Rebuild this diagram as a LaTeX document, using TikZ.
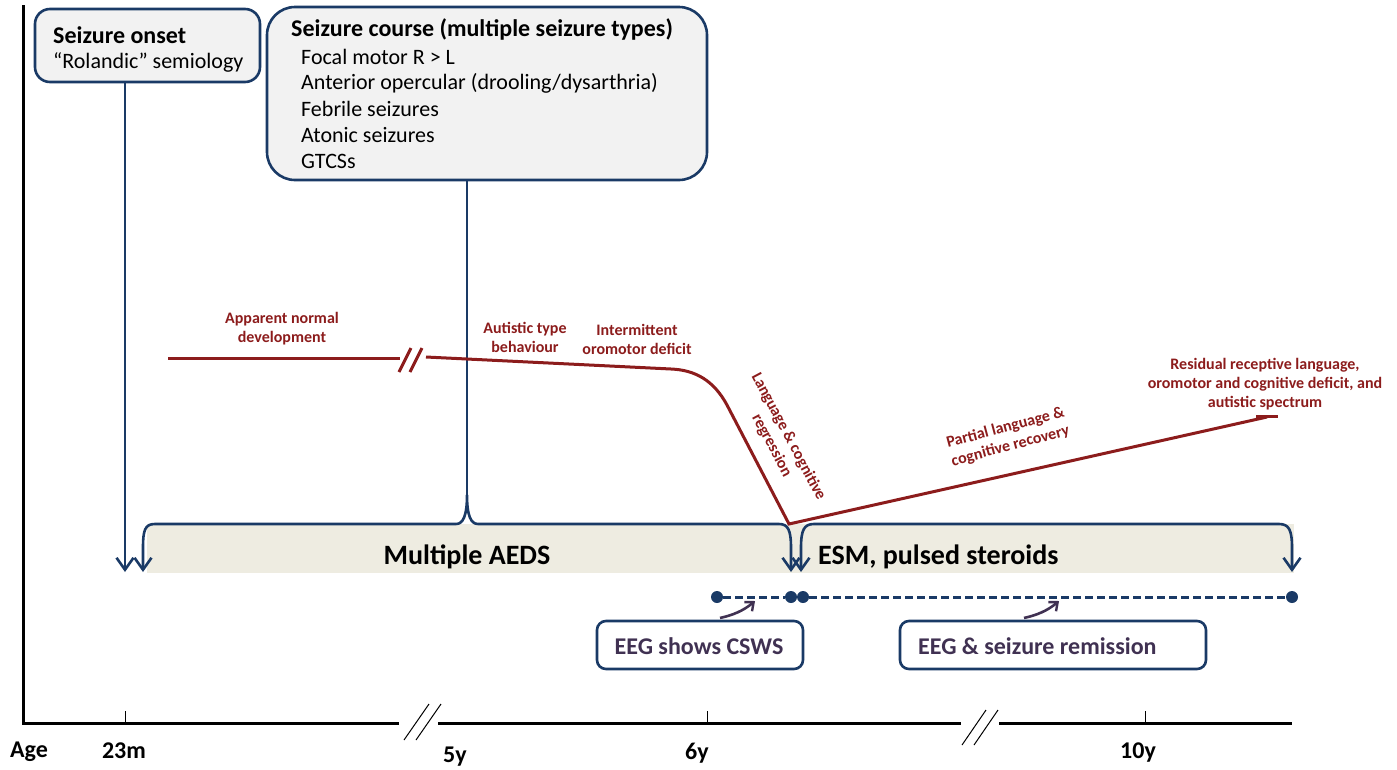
\documentclass[tikz,border=0pt]{standalone}
\usepackage{fontspec}
\setmainfont{Carlito}
\usetikzlibrary{arrows.meta}
\definecolor{navy}{HTML}{1A3A66}
\definecolor{boxfill}{HTML}{F2F2F2}
\definecolor{bandfill}{HTML}{EEECE1}
\definecolor{devred}{HTML}{8C1C1C}
\definecolor{eegpurple}{HTML}{403152}
\tikzset{
  vtip/.tip={Straight Barb[length=12pt, width=17pt, line width=2.6pt]},
  ptip/.tip={Straight Barb[length=7pt, width=12pt, line width=2.4pt]},
  infobox/.style={draw=navy, line width=2.6pt, fill=boxfill, inner sep=0pt},
  titletext/.style={anchor=west, inner sep=0pt, font=\fontsize{24}{28}\selectfont\bfseries},
  itemtext/.style={anchor=west, inner sep=0pt, font=\fontsize{22}{26}\selectfont},
  navyline/.style={draw=navy, line width=2.6pt},
  axisline/.style={line width=3pt, black},
  thinline/.style={line width=1pt, black},
  agelabel/.style={inner sep=0pt, font=\fontsize{24}{28}\selectfont\bfseries},
  bandtext/.style={inner sep=0pt, font=\fontsize{28}{32}\selectfont\bfseries},
  devline/.style={draw=devred, line width=3pt},
  redtext/.style={inner sep=0pt, align=center, text=devred, font=\fontsize{16}{19}\selectfont\bfseries},
  eegdot/.style={circle, fill=navy, inner sep=0pt, minimum size=12pt},
  eegdash/.style={draw=navy, line width=3pt, dash pattern=on 8pt off 4pt},
  eegbox/.style={draw=navy, line width=2.6pt, fill=white, rounded corners=9pt, inner sep=0pt},
  eegtext/.style={inner sep=0pt, text=eegpurple, font=\fontsize{24}{28}\selectfont\bfseries},
  eegarrow/.style={draw=eegpurple, line width=2.6pt, -{ptip}}
}
\begin{document}
\begin{tikzpicture}[x=1pt, y=-1pt]
\useasboundingbox (0,0) rectangle (1397,769);

% ---------- axis ----------
\draw[axisline] (23,5) -- (23,723) -- (399,723);
\draw[axisline] (438,723) -- (961,723);
\draw[axisline] (999,723) -- (1292,723);
\draw[thinline] (404,740) -- (429,704);
\draw[thinline] (416,740) -- (441,704);
\draw[thinline] (962,745) -- (986,710);
\draw[thinline] (974,745) -- (998,710);
\draw[thinline] (125,711) -- (125,723);
\draw[thinline] (707,711) -- (707,723);
\draw[thinline] (1145,711) -- (1145,723);
\node[agelabel] (lage) at (29,752) {Age};
\node[agelabel] (l23m) at (124,751) {23m};
\node[agelabel] (l5y) at (455,757) {5y};
\node[agelabel] (l6y) at (697,753) {6y};
\node[agelabel] (l10y) at (1138,753) {10y};

% ---------- treatment band ----------
\fill[bandfill] (147,524) rectangle (1294,573);

% ---------- boxes ----------
\node[infobox, rounded corners=15pt, minimum width=225pt, minimum height=73pt] (onset) at (147.5,45.5) {};
\node[titletext] (onsett) at (53,35) {Seizure onset};
\node[itemtext] (onsets) at (53,62) {“Rolandic” semiology};

\node[infobox, rounded corners=28pt, minimum width=440pt, minimum height=173pt] (course) at (487,93.5) {};
\node[titletext] (courset) at (291,29) {Seizure course (multiple seizure types)};
\node[itemtext] (c1) at (301,57) {Focal motor R > L};
\node[itemtext] (c2) at (301,83) {Anterior opercular (drooling/dysarthria)};
\node[itemtext] (c3) at (301,109) {Febrile seizures};
\node[itemtext] (c4) at (301,135) {Atonic seizures};
\node[itemtext] (c5) at (301,161) {GTCSs};

% ---------- connectors from boxes ----------
\coordinate (onsetend) at (125,572);
\draw[navyline, -{vtip}] (onset.south -| onsetend) -- (onsetend);
\coordinate (peak) at (467,495);
\draw[navyline] (course.south -| peak) -- (peak);

% ---------- braces ----------
\draw[navyline, {vtip}-{vtip}] (143,572) -- (143,548) .. controls (143,530) and (145,524) .. (155,524)
  -- (456,524) .. controls (463,524) and (467,516) .. (peak)
  .. controls (467,516) and (471,524) .. (478,524)
  -- (779,524) .. controls (788,524) and (791,530) .. (791,548) -- (791,572);
\draw[navyline, {vtip}-{vtip}] (801,572) -- (801,548) .. controls (801,530) and (804,524) .. (814,524)
  -- (1279,524) .. controls (1289,524) and (1292,530) .. (1292,548) -- (1292,572);
\node[bandtext] (aeds) at (467,557) {Multiple AEDS};
\node[bandtext, anchor=west] (esm) at (818,557) {ESM, pulsed steroids};

% ---------- development trajectory ----------
\draw[devline] (168,358) -- (400,358);
\draw[devline] (399,372) -- (411,348);
\draw[devline] (410,372) -- (422,348);
\draw[devline] (426,357) -- (671,369) .. controls (696,370) and (714,381) .. (727,405)
  -- (789,524) -- (1267,417);
\draw[devline] (1256,416) -- (1278,416);

\node[redtext] (apn) at (282,329) {Apparent normal\\development};
\node[redtext] (aut) at (525,337) {Autistic type\\behaviour};
\node[redtext] (oro) at (637,339) {Intermittent\\oromotor deficit};
\node[redtext, rotate=-62] (reg) at (780,441) {Language \& cognitive\\regression};
\node[redtext, rotate=15] (rec) at (1008,437) {Partial language \&\\cognitive recovery};
\node[redtext] (res) at (1265,384) {Residual receptive language,\\oromotor and cognitive deficit, and\\autistic spectrum};

% ---------- EEG ----------
\node[eegdot] (d1) at (717,597) {};
\node[eegdot] (d2) at (791,597) {};
\node[eegdot] (d3) at (803,597) {};
\node[eegdot] (d4) at (1292,597) {};
\draw[eegdash] (d1) -- (d2);
\draw[eegdash] (d3) -- (d4);

\node[eegbox, minimum width=206pt, minimum height=48pt] (csws) at (700,645) {};
\node[eegtext] (cswst) at (699,646) {EEG shows CSWS};
\node[eegbox, minimum width=306pt, minimum height=48pt] (remis) at (1053,645) {};
\node[eegtext, anchor=west] (remist) at (918,646) {EEG \& seizure remission};

\coordinate (a1s) at (720,618);
\coordinate (a1e) at (755,601);
\coordinate (a2s) at (1024,618);
\coordinate (a2e) at (1059,601);
\draw[eegarrow] (a1s) .. controls (733,615) and (743,611) .. (a1e);
\draw[eegarrow] (a2s) .. controls (1037,615) and (1047,611) .. (a2e);
\end{tikzpicture}
\end{document}
